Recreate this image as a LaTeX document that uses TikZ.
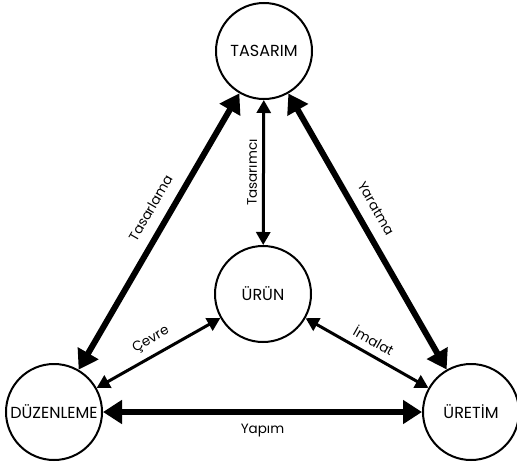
\documentclass[tikz,border=0pt]{standalone}
\usepackage{fontspec}
\setmainfont{Poppins}
\usetikzlibrary{arrows.meta}
\tikzset{
    every node/.style={font=\fontsize{16}{18}\selectfont},
    place/.style={circle, draw, line width=2pt, minimum size=96pt, inner sep=0pt, fill=white},
    bigarrow/.style={line width=6pt, {Triangle[length=19pt,width=23pt]}-{Triangle[length=19pt,width=23pt]}},
    smallarrow/.style={line width=3pt, {Triangle[length=13pt,width=14pt]}-{Triangle[length=13pt,width=14pt]}},
    lbl/.style={font=\fontsize{13.5}{15}\selectfont, sloped, inner sep=7pt}
}
\begin{document}
\begin{tikzpicture}[x=1pt, y=-1pt]
	\useasboundingbox (0,0) rectangle (517,466);
	\node (tas) [place] at (264, 51) {TASARIM};
	\node (urun) [place] at (263, 294) {ÜRÜN};
	\node (duz) [place] at (54, 412) {DÜZENLEME};
	\node (ure) [place] at (471, 412) {ÜRETİM};
	
	\draw[bigarrow] (duz) -- (tas) node[lbl, pos=0.55, above, inner sep=11pt] {Tasarlama};
	\draw[bigarrow] (tas) -- (ure) node[lbl, pos=0.45, above, inner sep=11pt] {Yaratma};
	\draw[bigarrow] (duz) -- (ure) node[lbl, midway, below, inner sep=9pt] {Yapım};
	
	\draw[smallarrow] (urun) -- (tas) node[lbl, midway, above, inner sep=5pt] {Tasarımcı};
	\draw[smallarrow] (duz) -- (urun) node[lbl, midway, above] {Çevre};
	\draw[smallarrow] (urun) -- (ure) node[lbl, midway, above] {İmalat};
\end{tikzpicture}
\end{document}
